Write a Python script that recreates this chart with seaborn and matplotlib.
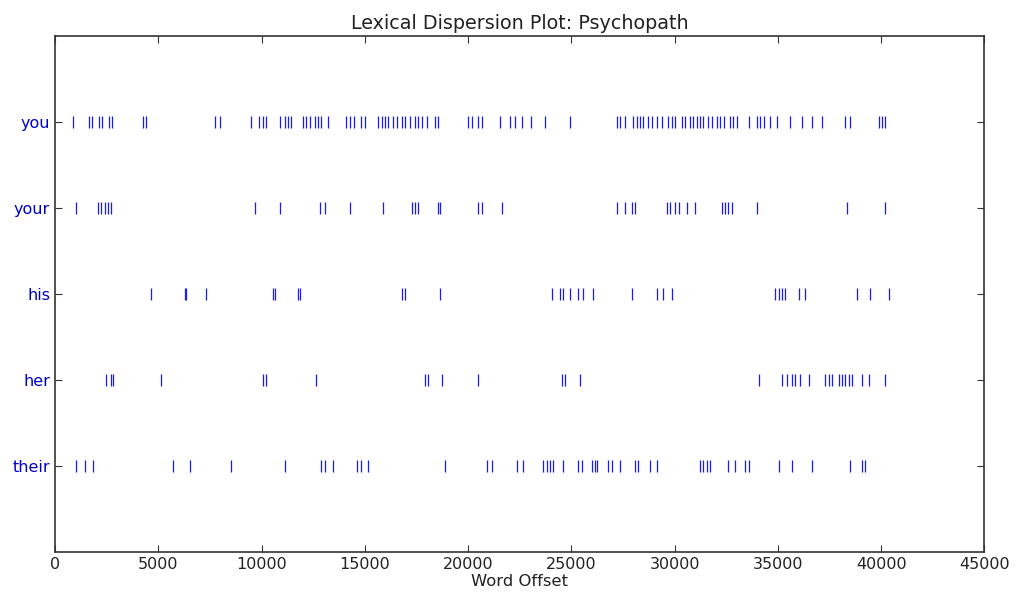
import matplotlib
matplotlib.use("Agg")
import matplotlib.pyplot as plt
import seaborn as sns
import pandas as pd

# Word positions (token offsets) for each searched word
words = ["you", "your", "his", "her", "their"]

you_offsets = [
    864, 1640, 1800, 2125, 2270, 2610, 2770, 4260, 4420, 7765, 7975,
    9510, 9880, 10075, 10235, 10880, 11125, 11285, 11450, 12010, 12175,
    12335, 12580, 12740, 12900, 13225, 14110, 14275, 14470, 14840, 15000,
    15650, 15810, 15970, 16135, 16375, 16540, 16780, 16940, 17185, 17425,
    17585, 17750, 17990, 18395, 18555, 20010, 20170, 20495, 20660, 21545,
    22030, 22270, 22600, 23050, 23725, 24940, 27200, 27360, 27605, 28005,
    28170, 28330, 28490, 28730, 28895, 29140, 29380, 29700, 29865, 30025,
    30350, 30510, 30755, 30915, 31080, 31240, 31400, 31640, 31805, 32045,
    32210, 32370, 32690, 32850, 33020, 33580, 33985, 34150, 34310, 34630,
    34955, 35600, 36165, 36650, 37135, 38265, 38510, 39880, 40045, 40205,
]
your_offsets = [
    1025, 2075, 2240, 2400, 2560, 2725, 9670, 10880, 12820, 13060, 14275,
    15890, 17265, 17425, 17585, 18555, 18635, 20495, 20660, 21625, 27200,
    27605, 27930, 28090, 29625, 29785, 30025, 30190, 30595, 31000, 32290,
    32450, 32610, 32775, 33985, 38345, 40205,
]
his_offsets = [
    4660, 6275, 6360, 7330, 10560, 10640, 11770, 11850, 16780, 16940,
    18635, 24050, 24450, 24615, 24940, 25340, 25580, 26065, 27930, 29140,
    29460, 29865, 34875, 35035, 35195, 35360, 36005, 36330, 38835, 39480,
    40365,
]
her_offsets = [
    2480, 2725, 2800, 5150, 10075, 10235, 12660, 17910, 18070, 18715,
    20495, 24530, 24695, 25420, 34065, 35195, 35440, 35680, 35840, 36085,
    36490, 37300, 37460, 37625, 37945, 38110, 38265, 38430, 38590, 39080,
    39400, 40205,
]
their_offsets = [
    1025, 1430, 1830, 5710, 6520, 8540, 11125, 12900, 13060, 13465, 14600,
    14840, 15160, 18880, 20900, 21140, 22350, 22675, 23645, 23805, 23970,
    24130, 24615, 25340, 25505, 25990, 26150, 26230, 26795, 26960, 27360,
    28090, 28250, 28815, 29140, 31240, 31400, 31560, 31725, 32610, 32935,
    33420, 33580, 35035, 35680, 36650, 38510, 39080, 39240,
]

x_ticks = [0, 5000, 10000, 15000, 20000, 25000, 30000, 35000, 40000, 45000]

offsets = {
    "you": you_offsets,
    "your": your_offsets,
    "his": his_offsets,
    "her": her_offsets,
    "their": their_offsets,
}

# Bottom row is the last word, top row the first one
order = list(reversed(words))
rows = []
for w in words:
    for o in offsets[w]:
        rows.append({"word": w, "offset": o, "row": order.index(w)})
df = pd.DataFrame(rows)

sns.set_style("white")
plt.rcParams["font.family"] = ["DejaVu Sans"]

fig = plt.figure(figsize=(10.19, 6.07), dpi=100)
ax = fig.add_axes([0.054, 0.091, 0.912, 0.850])

sns.scatterplot(
    data=df, x="offset", y="row", marker="|", s=80,
    color="#1a1aff", linewidth=0.9, ax=ax, legend=False,
)

ax.set_xlim(0, 45000)
ax.set_ylim(-1, len(words))
ax.set_xticks(x_ticks)
ax.set_xticklabels([str(t) for t in x_ticks], fontsize=11.5, color="#222222")
ax.set_yticks(range(len(words)))
ax.set_yticklabels(order, color="#0000cc", fontsize=11.5)

ax.tick_params(axis="both", which="both", direction="in", top=True,
               right=True, bottom=True, left=True, length=5, width=0.8,
               color="#333333")
for sp in ax.spines.values():
    sp.set_visible(True)
    sp.set_color("#333333")
    sp.set_linewidth(1.2)

ax.set_xlabel("Word Offset", fontsize=11.8, color="#222222", labelpad=2)
ax.set_ylabel("")
ax.set_title("Lexical Dispersion Plot: Psychopath", fontsize=13.8,
             color="#222222", pad=5)

fig.savefig("out.png", dpi=100, facecolor="white")
